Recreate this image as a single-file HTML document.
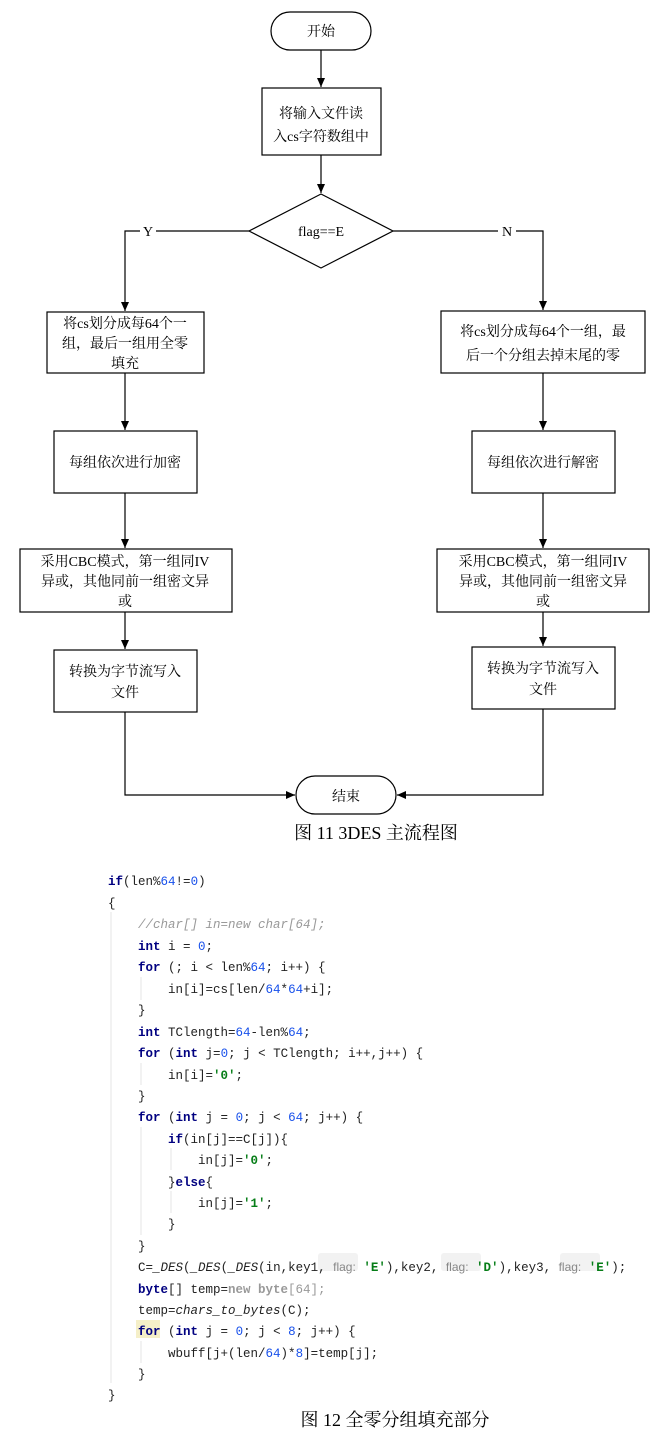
<!DOCTYPE html>
<html><head><meta charset="utf-8"><style>
body{margin:0;background:#fff;width:664px;height:1445px;overflow:hidden}
svg{position:absolute;left:0;top:0}
.t{font-family:"Liberation Serif","Noto Serif CJK SC",serif;font-size:14px;fill:#000;text-anchor:middle}
.c{font-family:"Liberation Mono","DejaVu Sans Mono",monospace;font-size:12.5px;fill:#222}
.k{fill:#000080;font-weight:bold}
.n{fill:#1750eb}
.s{fill:#067d17;font-weight:bold}
.g{fill:#999}
.i{font-style:italic}
.h{font-family:"Liberation Sans",sans-serif;fill:#888;font-size:12px}
</style></head><body>
<svg width="664" height="1445" viewBox="0 0 664 1445">
<defs><marker id="a" markerWidth="10" markerHeight="10" refX="9" refY="5" orient="auto" markerUnits="userSpaceOnUse"><path d="M0,1 L9,5 L0,9 z" fill="#000"/></marker></defs>
<g fill="none" stroke="#000" stroke-width="1.2">
<rect x="271" y="12" width="100" height="38" rx="19"/>
<rect x="262" y="88" width="119" height="67"/>
<polygon points="321,194 393,231 321,268 249,231"/>
<rect x="47" y="312" width="157" height="61"/>
<rect x="441" y="311" width="204" height="62"/>
<rect x="54" y="431" width="143" height="62"/>
<rect x="472" y="431" width="143" height="62"/>
<rect x="20" y="549" width="212" height="63"/>
<rect x="437" y="549" width="212" height="63"/>
<rect x="54" y="650" width="143" height="62"/>
<rect x="472" y="647" width="143" height="62"/>
<rect x="296" y="776" width="100" height="38" rx="19"/>
<path d="M321,50 V87" marker-end="url(#a)"/>
<path d="M321,155 V193" marker-end="url(#a)"/>
<path d="M249,231 H125 V311" marker-end="url(#a)"/>
<path d="M393,231 H543 V310" marker-end="url(#a)"/>
<path d="M125,373 V430" marker-end="url(#a)"/>
<path d="M543,373 V430" marker-end="url(#a)"/>
<path d="M125,493 V548" marker-end="url(#a)"/>
<path d="M543,493 V548" marker-end="url(#a)"/>
<path d="M125,612 V649" marker-end="url(#a)"/>
<path d="M543,612 V646" marker-end="url(#a)"/>
<path d="M125,712 V795 H295" marker-end="url(#a)"/>
<path d="M543,709 V795 H397" marker-end="url(#a)"/>
</g>
<rect x="140" y="222" width="16" height="18" fill="#fff"/>
<rect x="498" y="222" width="18" height="18" fill="#fff"/>
<text class="t" x="148" y="236">Y</text>
<text class="t" x="507" y="236">N</text>
<text class="t" x="321" y="36">开始</text>
<text class="t" x="321" y="118">将输入文件读</text>
<text class="t" x="321" y="141">入cs字符数组中</text>
<text class="t" x="321" y="236">flag==E</text>
<text class="t" x="125" y="328">将cs划分成每64个一</text>
<text class="t" x="125" y="348">组，最后一组用全零</text>
<text class="t" x="125" y="368">填充</text>
<text class="t" x="543" y="336">将cs划分成每64个一组，最</text>
<text class="t" x="543" y="360">后一个分组去掉末尾的零</text>
<text class="t" x="125" y="467">每组依次进行加密</text>
<text class="t" x="543" y="467">每组依次进行解密</text>
<text class="t" x="125" y="566">采用CBC模式，第一组同IV</text>
<text class="t" x="125" y="586">异或，其他同前一组密文异</text>
<text class="t" x="125" y="606">或</text>
<text class="t" x="543" y="566">采用CBC模式，第一组同IV</text>
<text class="t" x="543" y="586">异或，其他同前一组密文异</text>
<text class="t" x="543" y="606">或</text>
<text class="t" x="125" y="676">转换为字节流写入</text>
<text class="t" x="125" y="697">文件</text>
<text class="t" x="543" y="673">转换为字节流写入</text>
<text class="t" x="543" y="694">文件</text>
<text class="t" x="346" y="801">结束</text>
<text class="t" x="376" y="839" style="font-size:18px">图 11 3DES 主流程图</text>

<g stroke="#e4e4e4" stroke-width="1">
<path d="M111,912 V1383"/><path d="M141,977 V1000"/><path d="M141,1063 V1085"/><path d="M141,1127 V1235"/><path d="M171,1148 V1170"/><path d="M171,1191 V1213"/><path d="M141,1341 V1363"/>
</g>
<rect x="136" y="1320" width="24" height="18" fill="#f5efc8"/>
<rect x="318" y="1253" width="40" height="18" fill="#f2f2f2" rx="3"/>
<rect x="441" y="1253" width="40" height="18" fill="#f2f2f2" rx="3"/>
<rect x="560" y="1253" width="40" height="18" fill="#f2f2f2" rx="3"/>
<g class="c">
<text x="108" y="885"><tspan class="k">if</tspan>(len%<tspan class="n">64</tspan>!=<tspan class="n">0</tspan>)</text>
<text x="108" y="907">{</text>
<text x="138" y="928" class="g i">//char[] in=new char[64];</text>
<text x="138" y="950"><tspan class="k">int</tspan> i = <tspan class="n">0</tspan>;</text>
<text x="138" y="971"><tspan class="k">for</tspan> (; i &lt; len%<tspan class="n">64</tspan>; i++) {</text>
<text x="168" y="993">in[i]=cs[len/<tspan class="n">64</tspan>*<tspan class="n">64</tspan>+i];</text>
<text x="138" y="1014">}</text>
<text x="138" y="1036"><tspan class="k">int</tspan> TClength=<tspan class="n">64</tspan>-len%<tspan class="n">64</tspan>;</text>
<text x="138" y="1057"><tspan class="k">for</tspan> (<tspan class="k">int</tspan> j=<tspan class="n">0</tspan>; j &lt; TClength; i++,j++) {</text>
<text x="168" y="1079">in[i]=<tspan class="s">'0'</tspan>;</text>
<text x="138" y="1100">}</text>
<text x="138" y="1121"><tspan class="k">for</tspan> (<tspan class="k">int</tspan> j = <tspan class="n">0</tspan>; j &lt; <tspan class="n">64</tspan>; j++) {</text>
<text x="168" y="1143"><tspan class="k">if</tspan>(in[j]==C[j]){</text>
<text x="198" y="1164">in[j]=<tspan class="s">'0'</tspan>;</text>
<text x="168" y="1186">}<tspan class="k">else</tspan>{</text>
<text x="198" y="1207">in[j]=<tspan class="s">'1'</tspan>;</text>
<text x="168" y="1228">}</text>
<text x="138" y="1250">}</text>
<text x="138" y="1271">C=<tspan class="i">_DES</tspan>(<tspan class="i">_DES</tspan>(<tspan class="i">_DES</tspan>(in,key1, <tspan class="h">flag:</tspan> <tspan class="s">'E'</tspan>),key2, <tspan class="h">flag:</tspan> <tspan class="s">'D'</tspan>),key3, <tspan class="h">flag:</tspan> <tspan class="s">'E'</tspan>);</text>
<text x="138" y="1293"><tspan class="k">byte</tspan>[] temp=<tspan class="g" font-weight="bold">new byte</tspan><tspan class="g">[64];</tspan></text>
<text x="138" y="1314">temp=<tspan class="i">chars_to_bytes</tspan>(C);</text>
<text x="138" y="1335"><tspan class="k">for</tspan> (<tspan class="k">int</tspan> j = <tspan class="n">0</tspan>; j &lt; <tspan class="n">8</tspan>; j++) {</text>
<text x="168" y="1357">wbuff[j+(len/<tspan class="n">64</tspan>)*<tspan class="n">8</tspan>]=temp[j];</text>
<text x="138" y="1378">}</text>
<text x="108" y="1399">}</text>
</g>
<text class="t" x="395" y="1426" style="font-size:18px">图 12  全零分组填充部分</text>
</svg>
</body></html>
